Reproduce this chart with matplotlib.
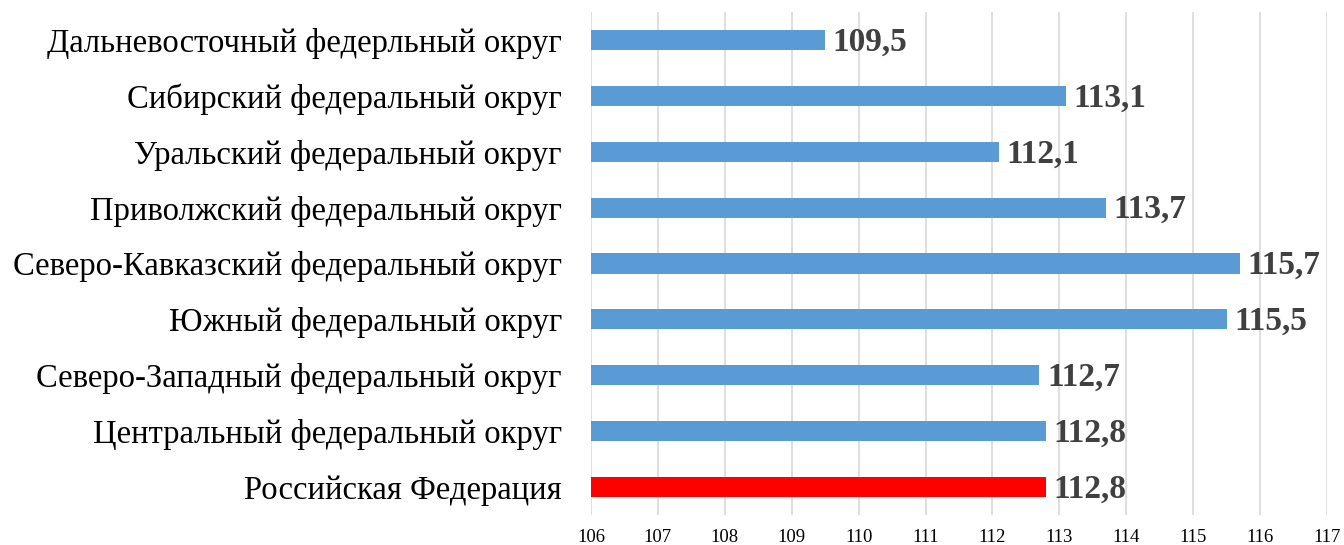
import matplotlib
matplotlib.use("Agg")
import matplotlib.pyplot as plt

categories = [
    "Российская Федерация",
    "Центральный федеральный округ",
    "Северо-Западный федеральный округ",
    "Южный федеральный округ",
    "Северо-Кавказский федеральный округ",
    "Приволжский федеральный округ",
    "Уральский федеральный округ",
    "Сибирский федеральный округ",
    "Дальневосточный федерльный округ",
]
values = [112.8, 112.8, 112.7, 115.5, 115.7, 113.7, 112.1, 113.1, 109.5]
colors = ["#FF0000"] + ["#5B9BD5"] * 8
xticks = list(range(106, 118))

plt.rcParams["font.family"] = ["Liberation Serif", "DejaVu Serif"]

fig = plt.figure(figsize=(13.44, 5.45), dpi=100)
ax = fig.add_axes([591 / 1344, 1 - 515 / 545, (1327 - 591) / 1344, (515 - 12) / 545])

base = 106
ypos = list(range(len(categories)))
ax.barh(ypos, [v - base for v in values], left=base, height=0.36, color=colors, zorder=3)

for y, v in zip(ypos, values):
    ax.annotate(f"{v:.1f}".replace(".", ","), xy=(v, y), xytext=(5.5, -1.5), textcoords="offset points",
                va="center", ha="left", fontsize=24, fontweight="bold", color="#404040")

ax.set_xlim(106, 117)
ax.set_ylim(-0.5, len(categories) - 0.5)
ax.set_xticks(xticks)
ax.set_xticklabels([str(t) for t in xticks], fontsize=13.5, color="#000000")
ax.set_yticks(ypos)
ax.set_yticklabels(categories, fontsize=23.5, color="#000000")
ax.tick_params(axis="both", length=0)
ax.tick_params(axis="y", pad=21)
ax.tick_params(axis="x", pad=10)
ax.grid(axis="x", color="#D9D9D9", linewidth=1.2, zorder=0)
for s in ax.spines.values():
    s.set_visible(False)

fig.savefig("out.png", dpi=100)
